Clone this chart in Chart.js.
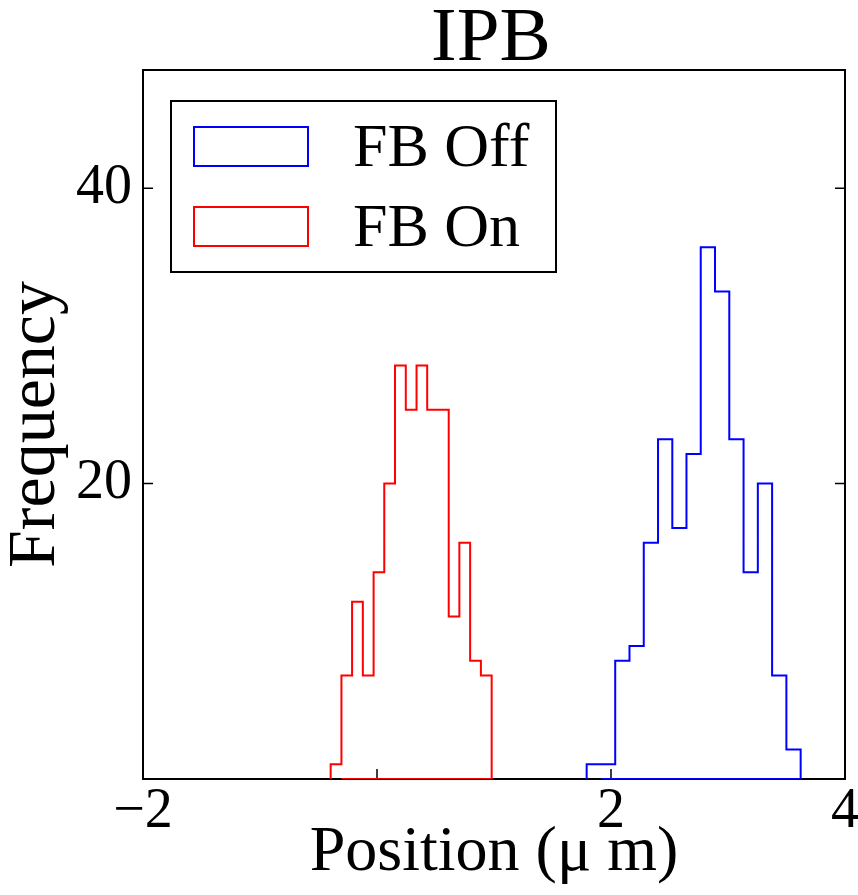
<!DOCTYPE html>
<html>
<head>
<meta charset="utf-8">
<script src="https://cdn.jsdelivr.net/npm/chart.js@4/dist/chart.umd.min.js"></script>
<style>
  html, body { margin: 0; padding: 0; background: #fff; }
  #wrap { width: 858px; height: 895px; }
</style>
</head>
<body>
<div id="wrap"><canvas id="hist"></canvas></div>
<script>
// --- data ---
const titleText = 'IPB';
const xTitle = 'Position (\u03bc m)';
const yTitle = 'Frequency';
const xTicks = [-2, 0, 2, 4];
const yTicks = [0, 20, 40];

const offLabel = 'FB Off';
const offEdges = [1.792, 1.914, 2.036, 2.158, 2.280, 2.402, 2.524, 2.645, 2.767, 2.889, 3.011, 3.133, 3.255, 3.377, 3.499, 3.621];
const offCounts = [1, 1, 8, 9, 16, 23, 17, 22, 36, 33, 23, 14, 20, 7, 2];

const onLabel = 'FB On';
const onEdges = [-0.396, -0.304, -0.213, -0.121, -0.029, 0.062, 0.154, 0.246, 0.338, 0.429, 0.521, 0.613, 0.704, 0.796, 0.888, 0.980];
const onCounts = [1, 7, 12, 7, 14, 20, 28, 25, 28, 25, 25, 11, 16, 8, 7];

const serif = "'Liberation Serif', 'Times New Roman', serif";

// step outline like a matplotlib 'step' histogram
function stepOutline(edges, counts) {
  const pts = [{ x: edges[0], y: 0 }];
  counts.forEach((c, i) => pts.push({ x: edges[i], y: c }));
  pts.push({ x: edges[edges.length - 1], y: 0 });
  pts.push({ x: edges[1], y: 0 });
  return pts;
}

// title, frame and inward ticks go under the histograms, legend on top
const framePlugin = {
  id: 'frame',
  beforeDatasetsDraw(chart) {
    const { ctx, chartArea: a, scales } = chart;
    ctx.save();

    ctx.fillStyle = '#000';
    ctx.font = '77px ' + serif;
    ctx.textAlign = 'center';
    ctx.textBaseline = 'alphabetic';
    ctx.fillText(titleText, (a.left + a.right) / 2 - 3, 60);

    ctx.strokeStyle = '#000';
    ctx.lineWidth = 2;
    ctx.strokeRect(a.left, a.top, a.right - a.left, a.bottom - a.top);

    ctx.lineWidth = 1.5;
    ctx.beginPath();
    xTicks.forEach(v => {
      const px = scales.x.getPixelForValue(v);
      ctx.moveTo(px, a.bottom);
      ctx.lineTo(px, a.bottom - 10);
    });
    yTicks.forEach(v => {
      const py = scales.y.getPixelForValue(v);
      ctx.moveTo(a.left, py);
      ctx.lineTo(a.left + 10, py);
      ctx.moveTo(a.right, py);
      ctx.lineTo(a.right - 10, py);
    });
    ctx.stroke();
    ctx.restore();
  },
  afterDraw(chart) {
    const { ctx, chartArea: a } = chart;
    ctx.save();
    const lx = a.left + 28, ly = a.top + 31;
    ctx.fillStyle = '#fff';
    ctx.fillRect(lx, ly, 385, 171);
    ctx.lineWidth = 2;
    ctx.strokeStyle = '#000';
    ctx.strokeRect(lx, ly, 385, 171);

    ctx.font = '62px ' + serif;
    ctx.textAlign = 'left';
    ctx.textBaseline = 'alphabetic';
    chart.data.datasets.forEach((ds, i) => {
      const ry = ly + 26 + i * 80;
      ctx.strokeStyle = ds.borderColor;
      ctx.lineWidth = 2;
      ctx.strokeRect(lx + 23, ry, 114, 39);
      ctx.fillStyle = '#000';
      ctx.fillText(ds.label, lx + 182, ry + 39);
    });
    ctx.restore();
  }
};

const ctx = document.getElementById('hist').getContext('2d');
new Chart(ctx, {
  type: 'line',
  data: {
    datasets: [
      {
        label: offLabel,
        data: stepOutline(offEdges, offCounts),
        borderColor: '#0000ff',
        backgroundColor: 'rgba(0,0,0,0)',
        borderWidth: 2,
        pointRadius: 0,
        stepped: 'before',
        fill: false
      },
      {
        label: onLabel,
        data: stepOutline(onEdges, onCounts),
        borderColor: '#ff0000',
        backgroundColor: 'rgba(0,0,0,0)',
        borderWidth: 2,
        pointRadius: 0,
        stepped: 'before',
        fill: false
      }
    ]
  },
  options: {
    responsive: true,
    maintainAspectRatio: false,
    animation: false,
    layout: { padding: { top: 70, right: 13, left: 0, bottom: 0 } },
    plugins: {
      legend: { display: false },
      tooltip: { enabled: false },
      title: { display: false }
    },
    scales: {
      x: {
        type: 'linear',
        min: -2,
        max: 4,
        afterBuildTicks: s => { s.ticks = xTicks.map(v => ({ value: v })); },
        afterFit: s => { s.height = 116; s.paddingLeft = 0; s.paddingRight = 0; },
        grid: { display: false, drawTicks: false },
        border: { display: false },
        ticks: {
          color: '#000',
          padding: 0,
          maxRotation: 0,
          font: { family: serif, size: 56 },
          callback: v => v === 0 ? '' : String(v).replace('-', '\u2212')
        },
        title: {
          display: true,
          text: xTitle,
          color: '#000',
          font: { family: serif, size: 64, lineHeight: 1 },
          padding: { top: 0, bottom: 10 }
        }
      },
      y: {
        min: 0,
        max: 48,
        afterBuildTicks: s => { s.ticks = yTicks.map(v => ({ value: v })); },
        afterFit: s => { s.width = 143; s.paddingTop = 0; s.paddingBottom = 0; },
        grid: { display: false, drawTicks: false },
        border: { display: false },
        ticks: {
          color: '#000',
          padding: 11,
          font: { family: serif, size: 56 },
          callback: v => v === 0 ? '' : String(v)
        },
        title: {
          display: true,
          text: yTitle,
          color: '#000',
          font: { family: serif, size: 68, lineHeight: 1 },
          padding: { top: 2, bottom: 0 }
        }
      }
    }
  },
  plugins: [framePlugin]
});
</script>
</body>
</html>
